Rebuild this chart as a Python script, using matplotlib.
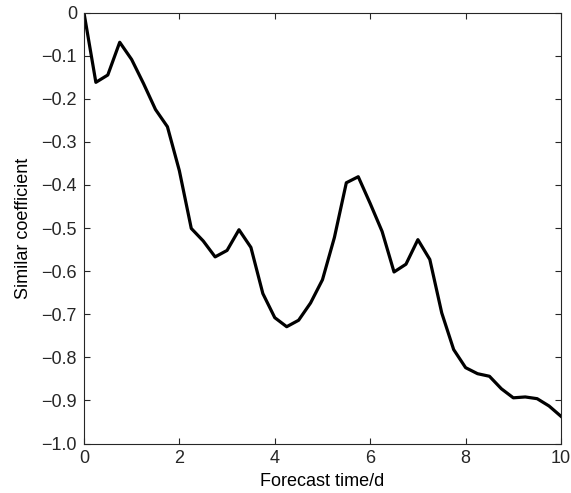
import numpy as np
import matplotlib
matplotlib.use("Agg")
import matplotlib.pyplot as plt
from matplotlib.ticker import FuncFormatter

plt.rcParams["font.family"] = ["Liberation Sans", "DejaVu Sans"]

# forecast time (days), sampled every quarter day
forecast_days = [0, 0.25, 0.5, 0.75, 1.0, 1.25, 1.5, 1.75, 2.0, 2.25,
                 2.5, 2.75, 3.0, 3.25, 3.5, 3.75, 4.0, 4.25, 4.5, 4.75,
                 5.0, 5.25, 5.5, 5.75, 6.0, 6.25, 6.5, 6.75, 7.0, 7.25,
                 7.5, 7.75, 8.0, 8.25, 8.5, 8.75, 9.0, 9.25, 9.5, 9.75, 10.0]
similar_coef = [0.0, -0.162, -0.145, -0.069, -0.109, -0.165, -0.225, -0.265, -0.367, -0.501,
                -0.530, -0.567, -0.552, -0.504, -0.545, -0.652, -0.708, -0.729, -0.714, -0.674,
                -0.620, -0.522, -0.395, -0.381, -0.443, -0.508, -0.602, -0.584, -0.527, -0.573,
                -0.697, -0.782, -0.824, -0.838, -0.844, -0.873, -0.894, -0.892, -0.896, -0.913, -0.937]

x_ticks = [0, 2, 4, 6, 8, 10]
y_ticks = [0, -0.1, -0.2, -0.3, -0.4, -0.5, -0.6, -0.7, -0.8, -0.9, -1.0]


def fmt_y(v, pos):
    if abs(v) < 1e-9:
        return "0"
    return f"{v:.1f}".replace("-", "\u2212")


fig = plt.figure(figsize=(5.71, 4.93), dpi=100)
ax = fig.add_axes([0.147, 0.1004, 0.8355, 0.8742])

ax.plot(forecast_days, similar_coef, color="black", linewidth=2.3)

ax.set_xlim(0, 10)
ax.set_ylim(-1.0, 0)
ax.set_xticks(x_ticks)
ax.set_yticks(y_ticks)
ax.yaxis.set_major_formatter(FuncFormatter(fmt_y))

ax.tick_params(direction="in", top=True, right=True, length=4, width=0.8,
               labelsize=13, colors="#262626", pad=5)
for s in ax.spines.values():
    s.set_linewidth(0.8)
    s.set_color("#262626")

ax.set_xlabel("Forecast time/d", fontsize=13, labelpad=4)
ax.set_ylabel("Similar coefficient", fontsize=13, labelpad=7)

fig.savefig("out.png", dpi=100)
